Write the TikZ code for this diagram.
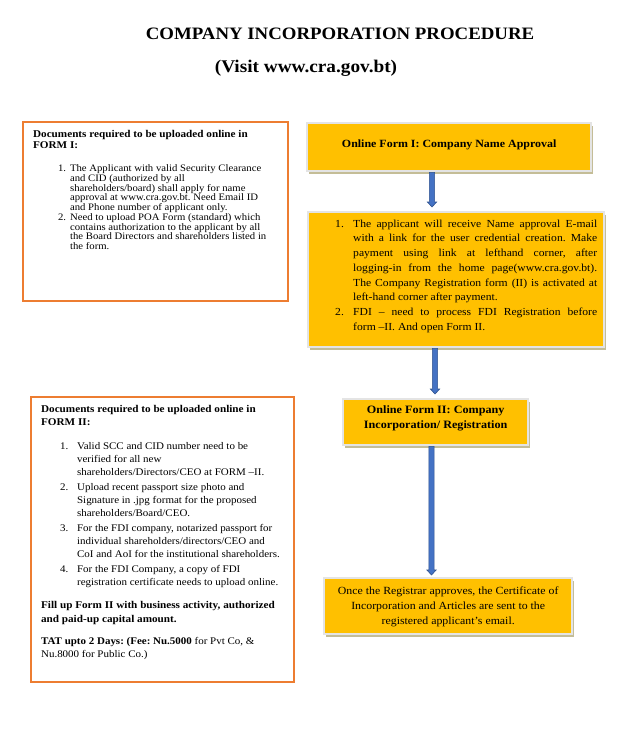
\documentclass[tikz,border=0pt]{standalone}
\usepackage{fontspec}
\setmainfont[FakeStretch=1.08]{Liberation Serif}
\usetikzlibrary{calc,shadows}
\definecolor{boxorange}{HTML}{ED7D31}
\definecolor{gold}{HTML}{FFC000}
\definecolor{shadowtan}{HTML}{C4BD97}
\definecolor{frameg}{HTML}{E4E4E4}
\definecolor{arrowblue}{HTML}{4472C4}
\definecolor{arrowdark}{HTML}{2F528F}
\newcommand{\fsz}[2]{\fontsize{#1}{#2}\selectfont}
\newcommand{\itm}[2]{\noindent\llap{\makebox[#1][l]{#2}}}
\frenchspacing
\tikzset{
  titletext/.style={anchor=base, inner sep=0pt, font=\fontsize{17.5}{19}\selectfont\bfseries},
  subtext/.style={anchor=base, inner sep=0pt, font=\fontsize{17.9}{19}\selectfont\bfseries},
  docbox/.style={draw=boxorange, line width=2.2bp, fill=white, inner sep=0pt, anchor=north west},
  stepbox/.style={fill=gold, draw=frameg, line width=2.4bp, inner sep=0pt, anchor=north west,
    drop shadow={shadow xshift=1.5bp, shadow yshift=-2.5bp, fill=shadowtan, opacity=1}},
  tipgap/.code={\def\agap{#1}}, tipgap=4bp,
  blockarrow/.style={fill=arrowblue, draw=arrowdark, line width=0.6bp,
    to path={let \p1=(\tikztostart), \p2=(\tikztotarget) in
      (\x1-2.6bp,\y1) -- (\x1+2.6bp,\y1) -- (\x1+2.6bp,\y2+\agap+5bp) -- (\x1+4.6bp,\y2+\agap+5bp)
      -- (\x1,\y2+\agap) -- (\x1-4.6bp,\y2+\agap+5bp) -- (\x1-2.6bp,\y2+\agap+5bp) -- cycle}}
}
\begin{document}
\begin{tikzpicture}[x=1bp,y=1bp]
\useasboundingbox[fill=white] (0,0) rectangle (622,-733);
\node[titletext] (t1) at (340,-40) {COMPANY INCORPORATION PROCEDURE};
\node[subtext] (t2) at (306,-72.3) {(Visit www.cra.gov.bt)};

\node[docbox] (d1) at (22,-121) {\parbox[t][179bp][t]{265bp}{\vspace*{8.5bp}\raggedright\leftskip=10bp
{\fsz{10.4}{11}\bfseries Documents required to be uploaded online in\\FORM I:\par}
\vspace{13bp}
\fsz{9.95}{9.8}\leftskip=47bp
\itm{12bp}{1.}The Applicant with valid Security Clearance\\and CID (authorized by all\\shareholders/board) shall apply for name\\approval at www.cra.gov.bt. Need Email ID\\and Phone number of applicant only.\par
\itm{12bp}{2.}Need to upload POA Form (standard) which\\contains authorization to the applicant by all\\the Board Directors and shareholders listed in\\the form.\par}};

\node[docbox] (d2) at (30,-396) {\parbox[t][285bp][t]{263bp}{\vspace*{8bp}\raggedright\leftskip=10bp
{\fsz{10.4}{13}\bfseries Documents required to be uploaded online in\\FORM II:\par}
\vspace{9.7bp}
{\fsz{10.2}{13.3}\leftskip=46bp\parskip=1.2bp
\itm{17bp}{1.}Valid SCC and CID number need to be\\verified for all new\\shareholders/Directors/CEO at FORM –II.\par
\itm{17bp}{2.}Upload recent passport size photo and\\Signature in .jpg format for the proposed\\shareholders/Board/CEO.\par
\itm{17bp}{3.}For the FDI company, notarized passport for\\individual shareholders/directors/CEO and\\CoI and AoI for the institutional shareholders.\par
\itm{17bp}{4.}For the FDI Company, a copy of FDI\\registration certificate needs to upload online.\par}
\vspace{9bp}
{\fsz{10.4}{14}\bfseries Fill up Form II with business activity, authorized\\and paid-up capital amount.\par}
\vspace{9bp}
{\fsz{10.2}{13}\textbf{TAT upto 2 Days: (Fee: Nu.5000} for Pvt Co, \&\\Nu.8000 for Public Co.)\par}}};

\node[stepbox] (s1) at (306,-122) {\parbox[t][48bp][t]{284bp}{\vspace*{16.5bp}\centering
\fsz{11.1}{12}\bfseries Online Form I: Company Name Approval\par}};

\node[stepbox] (s2) at (307,-211) {\parbox[t][135bp][t]{296bp}{\vspace*{7.5bp}
\fsz{10.8}{14.8}\leftskip=45bp\rightskip=7bp\hyphenpenalty=10000
\itm{18bp}{1.}The applicant will receive Name approval E-mail\linebreak with a link for the user credential creation. Make\linebreak payment using link at lefthand corner, after\linebreak logging-in from the home page(www.cra.gov.bt).\linebreak The Company Registration form (II) is activated at\linebreak left-hand corner after payment.\par
\itm{18bp}{2.}FDI – need to process FDI Registration before\linebreak form –II. And open Form II.\par}};

\node[stepbox] (s3) at (342,-398) {\parbox[t][46bp][t]{185bp}{\vspace*{6bp}\centering
\fsz{11.3}{15.5}\bfseries Online Form II: Company\\Incorporation/ Registration\par}};

\node[stepbox] (s4) at (323,-577) {\parbox[t][56bp][t]{248bp}{\vspace*{8.3bp}\centering
\fsz{11}{15}Once the Registrar approves, the Certificate of\\Incorporation and Articles are sent to the\\registered applicant’s email.\par}};

\coordinate (ax1) at (432,0);
\coordinate (ax2) at (435,0);
\coordinate (ax3) at (431.5,0);
\draw[blockarrow, tipgap=4bp] (s1.south -| ax1) to (s2.north -| ax1);
\draw[blockarrow, tipgap=4bp] (s2.south -| ax2) to (s3.north -| ax2);
\draw[blockarrow, tipgap=2bp] (s3.south -| ax3) to (s4.north -| ax3);
\end{tikzpicture}
\end{document}
